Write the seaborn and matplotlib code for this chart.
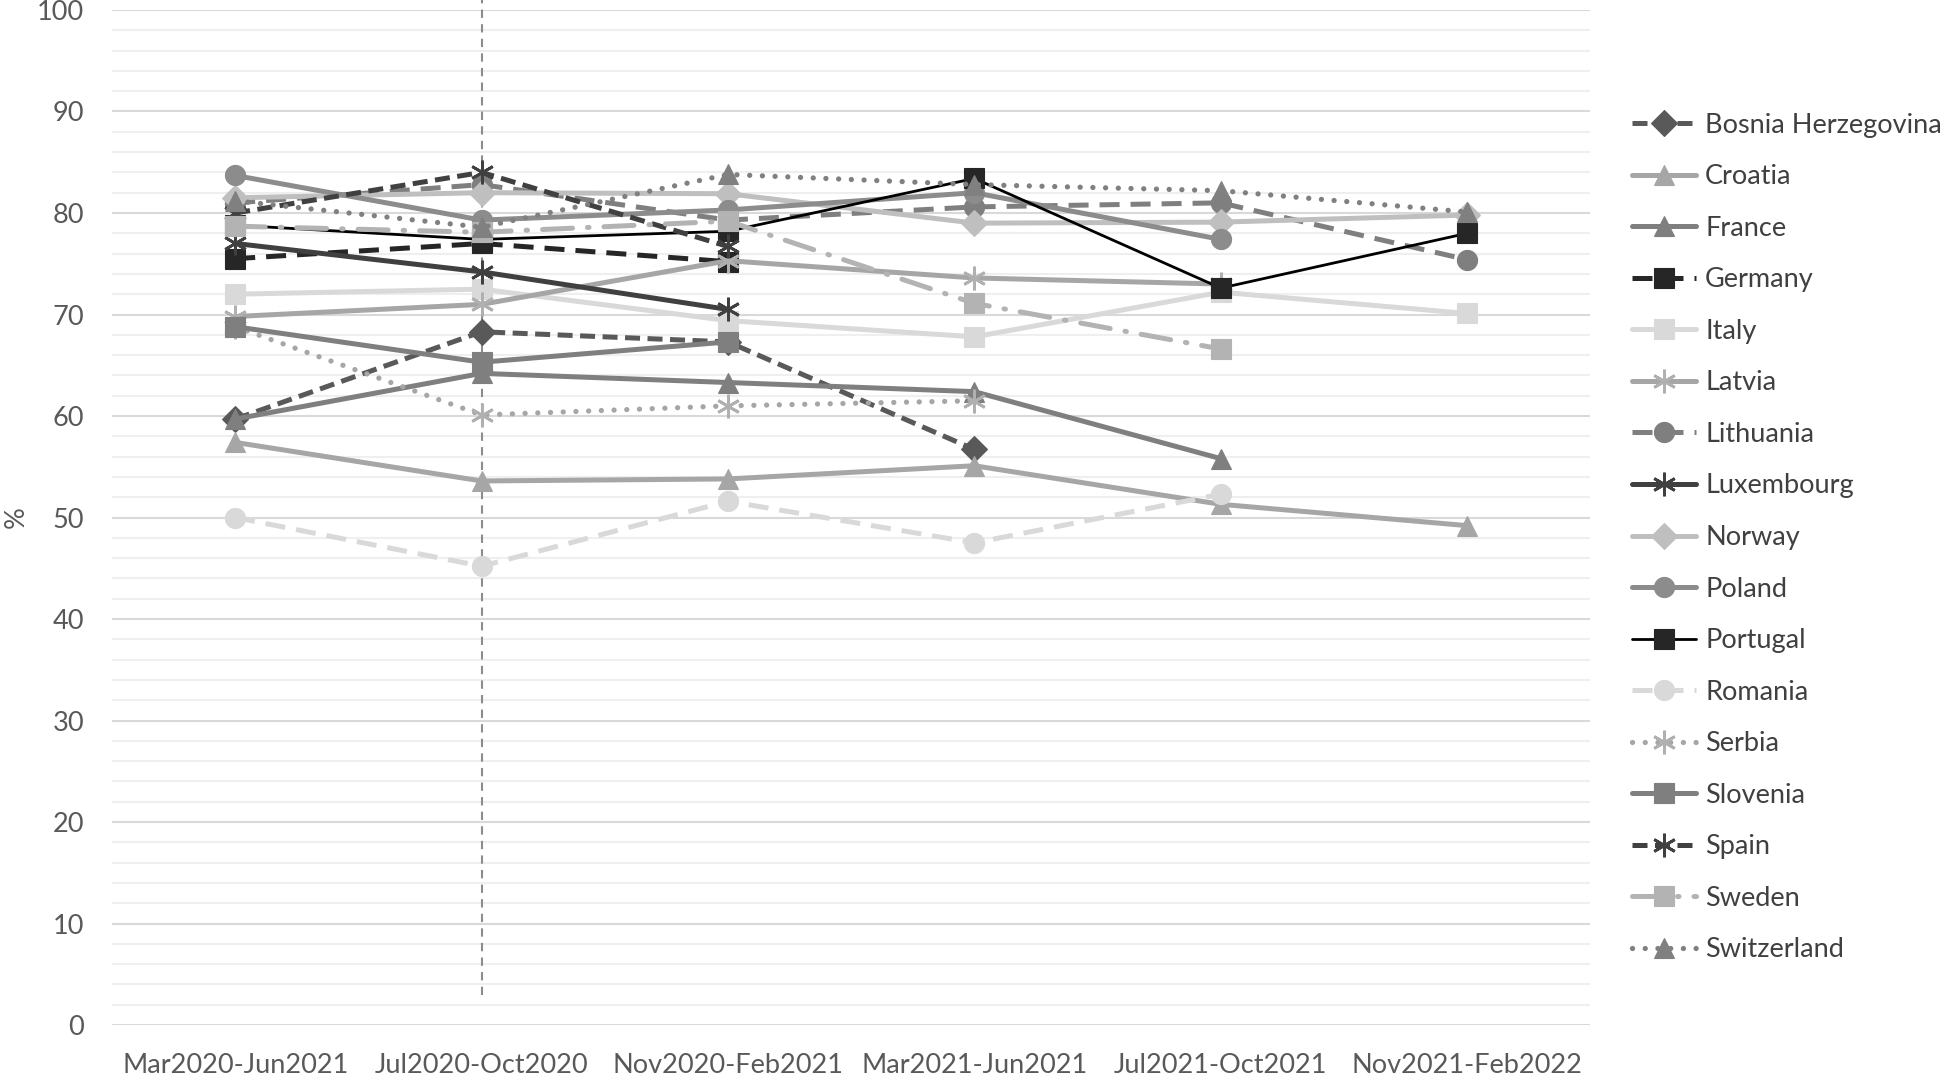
import numpy as np
import pandas as pd
import matplotlib
matplotlib.use("Agg")
import matplotlib.pyplot as plt
import seaborn as sns

nan = np.nan

# periods on the x axis
periods = ["Mar2020-Jun2021", "Jul2020-Oct2020", "Nov2020-Feb2021",
           "Mar2021-Jun2021", "Jul2021-Oct2021", "Nov2021-Feb2022"]

# values per country (%)
bosnia = [59.7, 68.3, 67.3, 56.7, nan, nan]
croatia = [57.4, 53.6, 53.8, 55.1, 51.3, 49.2]
france = [59.7, 64.2, 63.3, 62.4, 55.8, nan]
germany = [75.5, 77.0, 75.2, nan, nan, nan]
italy = [72.0, 72.5, 69.4, 67.8, 72.2, 70.1]
latvia = [69.8, 71.0, 75.3, 73.6, 73.0, nan]
lithuania = [81.0, 82.8, 79.3, 80.6, 81.0, 75.4]
luxembourg = [77.0, 74.2, 70.5, nan, nan, nan]
norway = [81.5, 82.0, 81.9, 79.0, 79.1, 79.8]
poland = [83.7, 79.3, 80.3, 82.0, 77.4, nan]
portugal = [78.8, 77.4, 78.2, 83.4, 72.6, 78.0]
romania = [50.0, 45.2, 51.6, 47.5, 52.3, nan]
serbia = [68.8, 60.1, 61.0, 61.5, nan, nan]
slovenia = [68.8, 65.3, 67.3, nan, nan, nan]
spain = [80.0, 84.0, 76.7, nan, nan, nan]
sweden = [78.7, 78.1, 79.2, 71.1, 66.6, nan]
switzerland = [81.2, 78.6, 83.8, 82.8, 82.2, 80.1]

countries = ["Bosnia Herzegovina", "Croatia", "France", "Germany", "Italy", "Latvia",
             "Lithuania", "Luxembourg", "Norway", "Poland", "Portugal", "Romania",
             "Serbia", "Slovenia", "Spain", "Sweden", "Switzerland"]
series = [bosnia, croatia, france, germany, italy, latvia, lithuania, luxembourg,
          norway, poland, portugal, romania, serbia, slovenia, spain, sweden, switzerland]

ast = (6, 2, 0)
dash = (0, (3, 1.5))
longdash = (0, (4, 2.2))
dot = (0, (0.01, 2.4))
dashdot = (0, (6, 3, 0.3, 3))

# marker color, line color, linestyle, marker, lw
styles = {
    "Bosnia Herzegovina": ("#595959", "#595959", dash, "D", 3.6),
    "Croatia": ("#a6a6a6", "#a6a6a6", "-", "^", 3.6),
    "France": ("#7f7f7f", "#7f7f7f", "-", "^", 3.6),
    "Germany": ("#262626", "#262626", longdash, "s", 3.6),
    "Italy": ("#d9d9d9", "#d9d9d9", "-", "s", 3.6),
    "Latvia": ("#b0b0b0", "#a6a6a6", "-", ast, 3.6),
    "Lithuania": ("#7f7f7f", "#7f7f7f", longdash, "o", 3.6),
    "Luxembourg": ("#404040", "#404040", "-", ast, 3.6),
    "Norway": ("#bfbfbf", "#bfbfbf", "-", "D", 3.6),
    "Poland": ("#8c8c8c", "#8c8c8c", "-", "o", 3.6),
    "Portugal": ("#262626", "#000000", "-", "s", 2.0),
    "Romania": ("#d9d9d9", "#d9d9d9", longdash, "o", 3.6),
    "Serbia": ("#b0b0b0", "#a6a6a6", dot, ast, 3.8),
    "Slovenia": ("#7f7f7f", "#7f7f7f", "-", "s", 3.6),
    "Spain": ("#404040", "#404040", dash, ast, 3.6),
    "Sweden": ("#b3b3b3", "#b3b3b3", dashdot, "s", 3.6),
    "Switzerland": ("#808080", "#808080", dot, "^", 3.8),
}

sns.set_style("white")
plt.rcParams["font.family"] = ["Lato", "DejaVu Sans"]

fig = plt.figure(figsize=(19.44, 10.75), dpi=100)
ax = fig.add_axes([0.0576, 0.0465, 0.7605, 0.9442])

pos = np.arange(len(periods))
for i, (name, vals) in enumerate(zip(countries, series)):
    df = pd.DataFrame({"pos": pos, "value": vals}).dropna()
    mcol, lcol, ls, mk, lw = styles[name]
    ms = 14.5
    if mk == "D":
        ms = 13
    if mk == ast:
        ms = 17
    sns.lineplot(data=df, x="pos", y="value", ax=ax, color=lcol, linestyle=ls,
                 lw=lw, marker=mk, markersize=ms, markerfacecolor=mcol,
                 markeredgecolor=mcol, markeredgewidth=2 if mk == ast else 0.8,
                 dash_capstyle="round" if ls in (dot, dashdot) else "butt",
                 errorbar=None, label=name, zorder=3 + i)

# vertical reference line at Jul2020-Oct2020
ax.plot([1, 1], [3, 101.5], color="#8c8c8c", lw=1.5, ls=(0, (4, 3)),
        clip_on=False, zorder=2)

ax.set_xlim(-0.5, 5.5)
ax.set_ylim(0, 100)
ax.set_yticks(np.arange(0, 101, 10))
ax.set_yticks(np.arange(0, 101, 2), minor=True)
ax.set_xticks(pos)
ax.set_xticklabels(periods)
ax.grid(axis="y", which="major", color="#d9d9d9", lw=1.5, zorder=0)
ax.grid(axis="y", which="minor", color="#efefef", lw=1.5, zorder=0)
ax.grid(axis="x", visible=False)
ax.set_axisbelow(True)
for s in ax.spines.values():
    s.set_visible(False)
ax.tick_params(axis="both", which="both", length=0, labelsize=19.5, colors="#595959")
ax.tick_params(axis="y", pad=20)
ax.tick_params(axis="x", pad=20)
ax.set_xlabel("")
ax.set_ylabel("%", fontsize=19.5, color="#595959")
ax.yaxis.set_label_coords(-0.056, 0.5)

ax.legend(loc="center left", bbox_to_anchor=(0.8395, 0.5), bbox_transform=fig.transFigure,
          frameon=False, fontsize=19.5, handlelength=2.35, handletextpad=0.35,
          labelspacing=0.98, borderpad=0, borderaxespad=0, labelcolor="#404040")

fig.savefig("out.png", dpi=100)
